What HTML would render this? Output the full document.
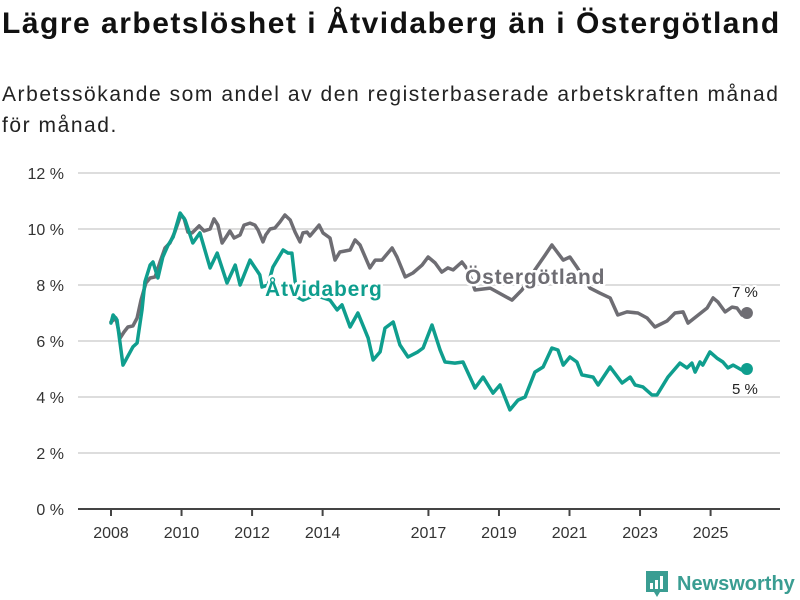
<!DOCTYPE html>
<html><head><meta charset="utf-8">
<style>
body{margin:0;background:#fff;width:800px;height:600px;overflow:hidden;font-family:"Liberation Sans","DejaVu Sans",sans-serif;}
#title{position:absolute;left:2px;top:7px;font-size:30px;font-weight:bold;color:#111;margin:0;letter-spacing:1.5px;white-space:nowrap;}
#sub{position:absolute;left:2px;top:79px;font-size:21px;color:#222;line-height:31px;width:790px;letter-spacing:1.55px;}
svg{position:absolute;left:0;top:0;}
</style></head><body>
<h1 id="title">Lägre arbetslöshet i Åtvidaberg än i Östergötland</h1>
<div id="sub">Arbetssökande som andel av den registerbaserade arbetskraften månad<br>för månad.</div>
<svg id="chart" width="800" height="600"></svg>
<script>
const yTicks=[0,2,4,6,8,10,12];
const xTicks=[2008,2010,2012,2014,2017,2019,2021,2023,2025];
const ostYears=[2008.00,2008.14,2008.26,2008.37,2008.48,2008.62,2008.74,2008.85,2008.99,2009.11,2009.25,2009.39,2009.53,2009.67,2009.81,2009.98,2010.07,2010.18,2010.30,2010.38,2010.50,2010.64,2010.81,2010.92,2011.03,2011.15,2011.26,2011.37,2011.49,2011.66,2011.77,2011.94,2012.08,2012.17,2012.31,2012.39,2012.51,2012.65,2012.79,2012.93,2013.08,2013.22,2013.36,2013.44,2013.56,2013.64,2013.78,2013.90,2014.01,2014.21,2014.35,2014.49,2014.78,2014.92,2015.06,2015.34,2015.49,2015.68,2015.97,2016.11,2016.34,2016.56,2016.82,2016.99,2017.19,2017.38,2017.55,2017.70,2017.95,2018.12,2018.32,2018.75,2019.37,2019.65,2020.02,2020.31,2020.50,2020.82,2021.01,2021.21,2021.58,2021.86,2022.15,2022.37,2022.63,2022.94,2023.20,2023.42,2023.76,2023.99,2024.22,2024.36,2024.90,2025.07,2025.21,2025.41,2025.61,2025.75,2025.89,2026.03];
const ostValues=[6.68,6.82,6.11,6.32,6.50,6.54,6.82,7.46,8.07,8.25,8.29,8.82,9.32,9.50,9.89,10.50,10.39,9.89,9.86,9.96,10.11,9.93,10.00,10.36,10.14,9.50,9.71,9.93,9.68,9.79,10.14,10.21,10.14,9.96,9.54,9.79,10.00,10.04,10.25,10.50,10.32,9.89,9.54,9.86,9.89,9.75,9.96,10.14,9.86,9.68,8.89,9.18,9.25,9.61,9.43,8.61,8.89,8.89,9.32,9.00,8.29,8.43,8.71,9.00,8.79,8.46,8.61,8.54,8.82,8.54,7.82,7.89,7.46,7.82,8.54,9.07,9.43,8.89,9.00,8.64,7.89,7.71,7.54,6.93,7.04,7.00,6.82,6.50,6.71,7.00,7.04,6.64,7.18,7.54,7.39,7.04,7.21,7.18,6.93,7.00];
const atvYears=[2008.00,2008.06,2008.17,2008.34,2008.62,2008.74,2008.88,2008.96,2009.11,2009.19,2009.33,2009.47,2009.62,2009.76,2009.96,2010.10,2010.32,2010.52,2010.81,2011.01,2011.29,2011.52,2011.66,2011.94,2012.22,2012.28,2012.45,2012.59,2012.88,2013.02,2013.13,2013.27,2013.44,2013.78,2014.21,2014.41,2014.55,2014.78,2015.00,2015.29,2015.43,2015.63,2015.77,2016.00,2016.19,2016.42,2016.70,2016.85,2017.10,2017.33,2017.47,2017.75,2017.98,2018.32,2018.55,2018.83,2019.03,2019.31,2019.54,2019.74,2020.02,2020.25,2020.50,2020.67,2020.82,2021.01,2021.21,2021.35,2021.67,2021.81,2022.15,2022.49,2022.72,2022.86,2023.08,2023.34,2023.48,2023.79,2024.13,2024.33,2024.47,2024.56,2024.70,2024.78,2024.98,2025.18,2025.35,2025.49,2025.64,2025.89,2026.03];
const atvValues=[6.64,6.93,6.75,5.14,5.79,5.93,7.11,8.11,8.71,8.82,8.25,9.00,9.43,9.71,10.57,10.32,9.50,9.86,8.61,9.14,8.07,8.71,8.00,8.89,8.36,7.93,8.00,8.64,9.25,9.14,9.14,7.57,7.46,7.64,7.46,7.11,7.29,6.50,7.00,6.11,5.32,5.61,6.46,6.68,5.86,5.43,5.61,5.75,6.57,5.68,5.25,5.21,5.25,4.32,4.71,4.14,4.43,3.54,3.89,4.00,4.89,5.07,5.75,5.68,5.14,5.43,5.25,4.79,4.71,4.43,5.07,4.50,4.71,4.43,4.36,4.07,4.07,4.71,5.21,5.04,5.21,4.89,5.25,5.14,5.61,5.39,5.25,5.04,5.14,4.96,5.00];

const NS='http://www.w3.org/2000/svg';
const svg=document.getElementById('chart');
const x=v=>111+(v-2008)*35.27;
const y=v=>509-v*28;
function mk(tag,attrs,parent){const e=document.createElementNS(NS,tag);for(const k in attrs)e.setAttribute(k,attrs[k]);(parent||svg).appendChild(e);return e;}
const F='"Liberation Sans","DejaVu Sans",sans-serif';
yTicks.forEach(t=>{
  const g=mk('line',{x1:78,x2:780,y1:y(t),y2:y(t),stroke:t===0?'#444':'#ddd','stroke-width':2});
  
  
  const l=mk('text',{x:64,y:y(t)+6,'text-anchor':'end','font-size':16,fill:'#333','font-family':F});
  l.textContent=t+' %';
  
  
});
xTicks.forEach(t=>{
  const k=mk('line',{x1:x(t),x2:x(t),y1:509,y2:516,stroke:'#444','stroke-width':2});
  
  
  const l=mk('text',{x:x(t),y:538,'text-anchor':'middle','font-size':16,fill:'#333','font-family':F});
  l.textContent=t;
  
  
});
function line(xs,vs,color,name){
  const d=xs.map((v,i)=>(i?'L':'M')+x(v).toFixed(1)+','+y(vs[i]).toFixed(1)).join('');
  const p=mk('path',{d:d,fill:'none',stroke:color,'stroke-width':3.5,'stroke-linejoin':'round','stroke-linecap':'round'});
  
  
  const n=xs.length-1;
  const c=mk('circle',{cx:x(xs[n]),cy:y(vs[n]),r:6,fill:color});
  
  
}
line(ostYears,ostValues,'#6e6d73','ostergotland-line');
line(atvYears,atvValues,'#0f9e8e','atvidaberg-line');
function lbl(tx,px,py,color,name,size,bold,ls){
  const t=mk('text',{x:px,y:py,fill:color,'font-size':size,'font-weight':bold?'bold':'normal','font-family':F,stroke:'#fff','stroke-width':bold?5:4,'paint-order':'stroke','stroke-linejoin':'round','letter-spacing':ls||0});
  t.textContent=tx;
  
  
}
lbl('Åtvidaberg',265,296,'#0f9e8e','atvidaberg-label',21,true,0.8);
lbl('Östergötland',465,284,'#6e6d73','ostergotland-label',21,true,0.8);
const oN=ostValues.length-1, aN=atvValues.length-1;
lbl(Math.round(ostValues[oN])+' %',732,y(ostValues[oN])-16,'#222','ostergotland-end-value',15,false);
lbl(Math.round(atvValues[aN])+' %',732,y(atvValues[aN])+25,'#222','atvidaberg-end-value',15,false);
const lg=mk('g',{});


mk('path',{d:'M646,571h22v21h-8l-3,5l-3,-5h-8z',fill:'#3a9d92'},lg);
mk('rect',{x:650,y:583,width:3,height:6,fill:'#fff'},lg);
mk('rect',{x:655,y:580,width:3,height:9,fill:'#fff'},lg);
mk('rect',{x:660,y:576,width:3,height:13,fill:'#fff'},lg);
const lt=mk('text',{x:677,y:590,fill:'#3a9d92','font-size':20,'font-weight':'bold','font-family':F},lg);
lt.textContent='Newsworthy';
</script>
</body></html>
